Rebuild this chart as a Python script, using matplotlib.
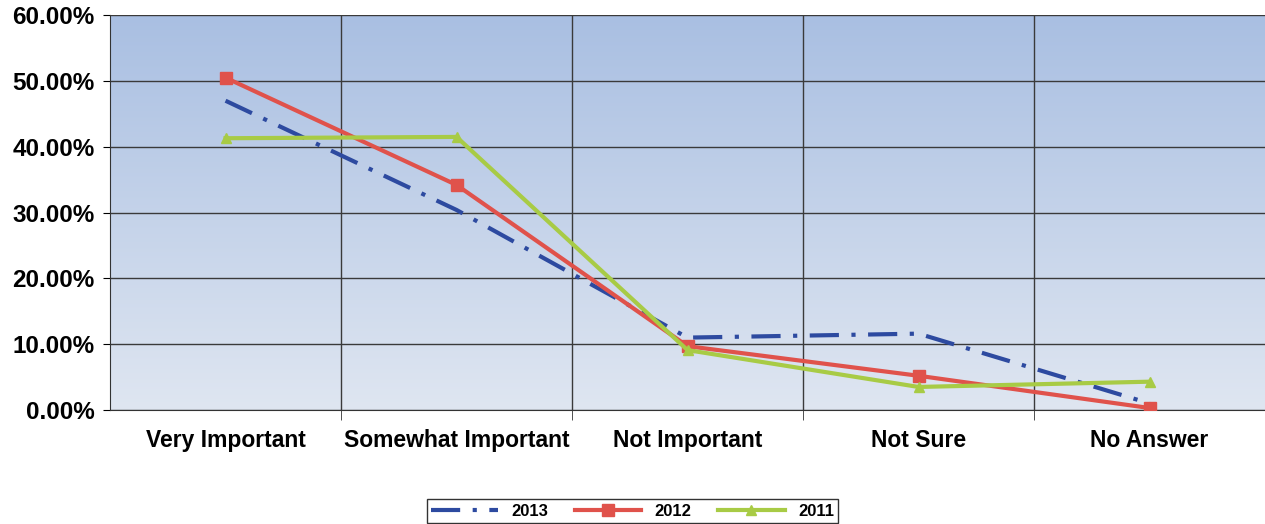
import numpy as np
import matplotlib
matplotlib.use('Agg')
import matplotlib.pyplot as plt
from matplotlib.ticker import FixedLocator, FuncFormatter

plt.rcParams['font.family'] = ['Liberation Sans', 'DejaVu Sans']

# data
categories = ['Very Important', 'Somewhat Important', 'Not Important', 'Not Sure', 'No Answer']
y2013 = [47.0, 30.4, 11.0, 11.6, 1.0]
y2012 = [50.5, 34.2, 9.7, 5.2, 0.3]
y2011 = [41.3, 41.5, 9.1, 3.5, 4.3]

fig = plt.figure(figsize=(12.65, 5.24), dpi=100)
ax = fig.add_axes([0.087, 0.2176, 0.913, 0.7534])

x = np.arange(len(categories))

# gradient background, darker at top
grad = np.linspace(0, 1, 256).reshape(-1, 1)
cmap = matplotlib.colors.LinearSegmentedColormap.from_list('bg', ['#dfe6f1', '#a9bfe2'])
ax.imshow(grad, aspect='auto', cmap=cmap, origin='lower',
          extent=(-0.5, 4.5, 0, 60), zorder=0)

ax.plot(x, y2013, color='#2d4aa0', lw=3, linestyle=(0, (7, 3, 1, 3)), label='2013', zorder=3)
ax.plot(x, y2012, color='#e0524b', lw=3, marker='s', ms=9, label='2012', zorder=3)
ax.plot(x, y2011, color='#a8cb45', lw=3, marker='^', ms=7, label='2011', zorder=3)

ax.set_xlim(-0.5, 4.5)
ax.set_ylim(0, 60)
ax.set_xticks(x)
ax.set_xticklabels(categories, fontsize=16.5, fontweight='bold')
ax.xaxis.set_minor_locator(FixedLocator([0.5, 1.5, 2.5, 3.5]))
ax.tick_params(axis='x', which='major', length=0, pad=14)
ax.tick_params(axis='x', which='minor', length=7, direction='out', color='#333333')
ax.set_yticks(np.arange(0, 61, 10))
ax.yaxis.set_major_formatter(FuncFormatter(lambda v, p: f'{v:.2f}%'))
ax.tick_params(axis='y', length=5, direction='out', labelsize=17.5, pad=6)
for t in ax.get_yticklabels():
    t.set_fontweight('bold')

ax.grid(axis='y', which='major', color='#3a3a3a', lw=1, zorder=1)
ax.grid(axis='x', which='minor', color='#3a3a3a', lw=1, zorder=1)
ax.set_axisbelow(True)
for s in ['top', 'right']:
    ax.spines[s].set_visible(False)
ax.spines['left'].set_color('#333333')
ax.spines['bottom'].set_color('#333333')

leg = fig.legend(loc='upper center', bbox_to_anchor=(0.5, 0.047), ncol=3,
                 frameon=True, fancybox=False, edgecolor='black',
                 prop={'weight': 'bold', 'size': 12}, handlelength=4,
                 columnspacing=1.6, borderpad=0.25, borderaxespad=0)
leg.get_frame().set_linewidth(1)

fig.savefig('out.png', dpi=100)
